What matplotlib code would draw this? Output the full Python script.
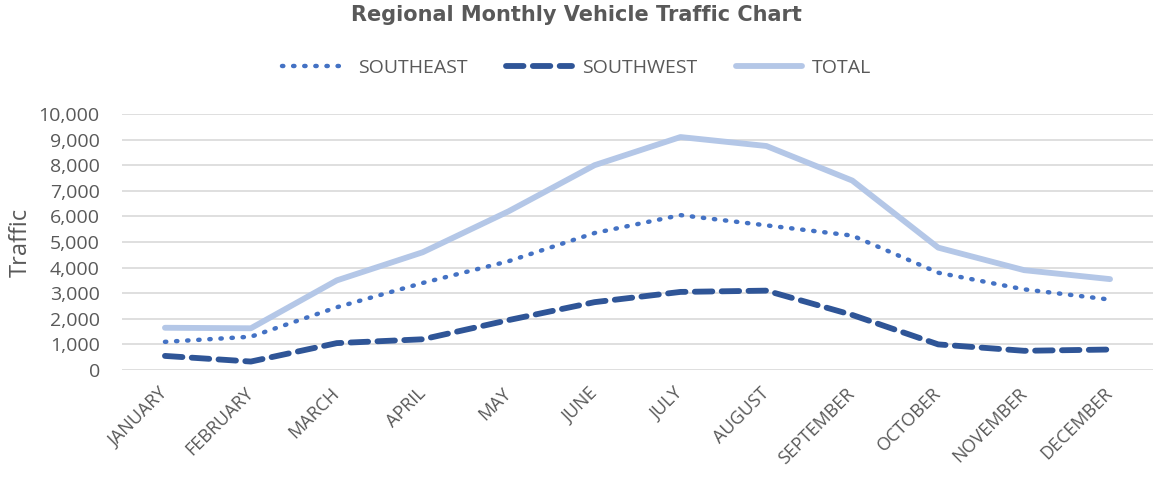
import matplotlib
matplotlib.use("Agg")
import matplotlib.pyplot as plt
from matplotlib.ticker import FuncFormatter, MultipleLocator

months = ["JANUARY", "FEBRUARY", "MARCH", "APRIL", "MAY", "JUNE", "JULY",
          "AUGUST", "SEPTEMBER", "OCTOBER", "NOVEMBER", "DECEMBER"]
southeast = [1100, 1300, 2450, 3400, 4250, 5350, 6050, 5650, 5250, 3800, 3150, 2750]
southwest = [550, 330, 1050, 1200, 1950, 2650, 3050, 3100, 2150, 1000, 750, 800]
total = [1650, 1630, 3500, 4600, 6200, 8000, 9100, 8750, 7400, 4780, 3900, 3550]

plt.rcParams['font.family'] = ['Open Sans', 'DejaVu Sans']
txt = '#595959'

fig = plt.figure(figsize=(11.53, 4.86), dpi=100)
ax = fig.add_axes([122/1153, 1-370/486, 1-122/1153, 256/486])

x = list(range(len(months)))
l1, = ax.plot(x, southeast, color='#4472C4', lw=3.2, linestyle=(0, (0.3, 2.2)),
              dash_capstyle='round', solid_capstyle='round', label='SOUTHEAST', zorder=3)
l2, = ax.plot(x, southwest, color='#2F5597', lw=4.2, linestyle=(0, (3.0, 1.6)),
              dash_capstyle='round', label='SOUTHWEST', zorder=3)
l3, = ax.plot(x, total, color='#B4C7E7', lw=4.2, solid_capstyle='round',
              label='TOTAL', zorder=2)

ax.set_xlim(-0.5, len(months) - 0.5)
ax.set_ylim(0, 10000)
ax.yaxis.set_major_locator(MultipleLocator(1000))
ax.yaxis.set_major_formatter(FuncFormatter(lambda v, p: f"{int(v):,}"))
ax.grid(axis='y', color='#D9D9D9', lw=1.2)
ax.set_axisbelow(True)
for s in ax.spines.values():
    s.set_visible(False)
ax.tick_params(axis='both', length=0, colors=txt)
ax.tick_params(axis='y', labelsize=14, pad=16)
ax.set_xticks(x)
ax.set_xticklabels(months, rotation=45, ha='right', va='center',
                   rotation_mode='anchor', fontsize=13, color=txt)
ax.tick_params(axis='x', pad=15)
ax.set_ylabel('Traffic', fontsize=17, color=txt)
ax.yaxis.set_label_coords(-0.087, 0.5)

fig.suptitle('Regional Monthly Vehicle Traffic Chart', fontsize=15,
             fontweight='bold', color=txt, y=0.99, family='DejaVu Sans')
fig.legend(handles=[l1, l2, l3], loc='center', bbox_to_anchor=(0.5, 1-68/486),
           ncol=3, frameon=False, fontsize=14, labelcolor=txt,
           handlelength=3.4, columnspacing=2.0, handletextpad=0.5)

fig.savefig('out.png', dpi=100)
